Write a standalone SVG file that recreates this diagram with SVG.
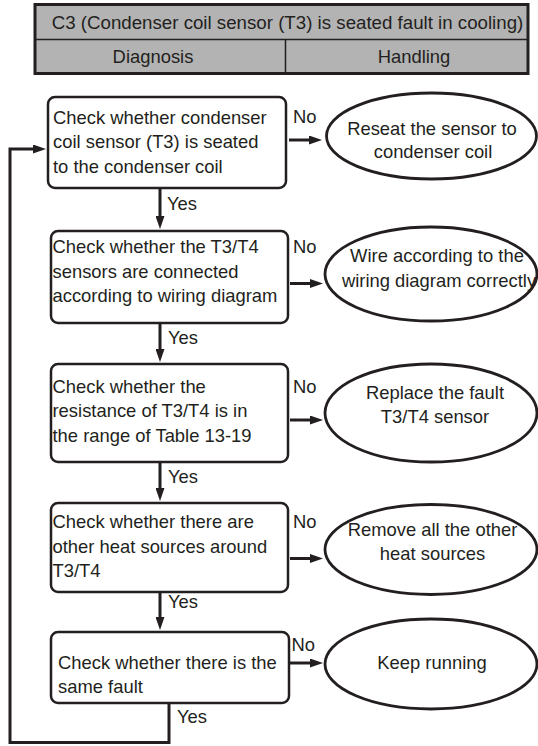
<svg xmlns="http://www.w3.org/2000/svg" width="538" height="746" viewBox="0 0 538 746">
<style>
text{font-family:"Liberation Sans",Arial,sans-serif;font-size:18.4px;fill:#231f20}
.mid{text-anchor:middle}
.ttl{font-size:18.7px}
.box{fill:#fff;stroke:#231f20;stroke-width:2.5}
.ell{fill:#fff;stroke:#231f20;stroke-width:2.8}
.hdr{fill:#b3b3b3;stroke:#231f20;stroke-width:3}
.hl{stroke:#231f20;stroke-width:1.5;fill:none}
.con{stroke:#231f20;stroke-width:3;fill:none}
</style>
<defs>
<marker id="ah" viewBox="0 0 13 9" refX="2" refY="4.5" markerWidth="13" markerHeight="9" markerUnits="userSpaceOnUse" orient="auto">
<path d="M0,0 L13,4.5 L0,9 z" fill="#231f20"/>
</marker>
</defs>

<g id="header">
<rect class="hdr" x="35" y="4.5" width="493" height="69"/>
<line class="hl" x1="35" y1="39.5" x2="528" y2="39.5"/>
<line class="hl" x1="285.5" y1="39.5" x2="285.5" y2="73.5"/>
<text class="mid ttl" x="287.5" y="28.5">C3 (Condenser coil sensor (T3) is seated fault in cooling)</text>
<text class="mid" x="153" y="63">Diagnosis</text>
<text class="mid" x="414" y="63">Handling</text>
</g>

<g id="connectors">
<path class="con" d="M289,140 H311" marker-end="url(#ah)"/>
<path class="con" d="M290,283.5 H312" marker-end="url(#ah)"/>
<path class="con" d="M290,420 H312" marker-end="url(#ah)"/>
<path class="con" d="M290,558.5 H312" marker-end="url(#ah)"/>
<path class="con" d="M290,663 H312" marker-end="url(#ah)"/>
<path class="con" d="M160,188 V218" marker-end="url(#ah)"/>
<path class="con" d="M160,323 V351" marker-end="url(#ah)"/>
<path class="con" d="M160,462 V490" marker-end="url(#ah)"/>
<path class="con" d="M160,592 V619" marker-end="url(#ah)"/>
<path class="con" d="M169,703 V742.5 H10 V149 H35" marker-end="url(#ah)"/>
<text x="293" y="122.5">No</text>
<text x="293" y="252.5">No</text>
<text x="293" y="392.5">No</text>
<text x="293" y="528">No</text>
<text x="291.5" y="650.5">No</text>
<text x="167" y="209.5">Yes</text>
<text x="168" y="343.5">Yes</text>
<text x="168" y="482.5">Yes</text>
<text x="168" y="608">Yes</text>
<text x="177" y="723">Yes</text>
</g>

<g id="n1">
<rect class="box" x="48" y="97" width="238" height="91" rx="7"/>
<text x="53" y="123.5">Check whether condenser</text>
<text x="53" y="148">coil sensor (T3) is seated</text>
<text x="53" y="172.5">to the condenser coil</text>
</g>
<g id="e1">
<ellipse class="ell" cx="431.5" cy="136" rx="105" ry="43"/>
<text class="mid" x="432" y="134.5">Reseat the sensor to</text>
<text class="mid" x="433" y="158">condenser coil</text>
</g>

<g id="n2">
<rect class="box" x="51" y="231" width="237" height="92" rx="7"/>
<text x="52.5" y="253">Check whether the T3/T4</text>
<text x="52.5" y="277.5">sensors are connected</text>
<text x="52.5" y="302">according to wiring diagram</text>
</g>
<g id="e2">
<ellipse class="ell" cx="431" cy="274" rx="106" ry="47"/>
<text class="mid" x="437" y="261.5">Wire according to the</text>
<text class="mid" x="439" y="286.5">wiring diagram correctly</text>
</g>

<g id="n3">
<rect class="box" x="51" y="364" width="237" height="98" rx="7"/>
<text x="52.5" y="392.5">Check whether the</text>
<text x="52.5" y="417">resistance of T3/T4 is in</text>
<text x="52.5" y="441.5">the range of Table 13-19</text>
</g>
<g id="e3">
<ellipse class="ell" cx="431" cy="413" rx="106" ry="49"/>
<text class="mid" x="435" y="398.5">Replace the fault</text>
<text class="mid" x="435" y="422.5">T3/T4 sensor</text>
</g>

<g id="n4">
<rect class="box" x="51" y="503" width="237" height="89" rx="7"/>
<text x="52.5" y="527.5">Check whether there are</text>
<text x="52.5" y="552.5">other heat sources around</text>
<text x="52.5" y="577">T3/T4</text>
</g>
<g id="e4">
<ellipse class="ell" cx="431" cy="549.5" rx="106" ry="45"/>
<text class="mid" x="432.5" y="536">Remove all the other</text>
<text class="mid" x="432.5" y="560">heat sources</text>
</g>

<g id="n5">
<rect class="box" x="51" y="632" width="238" height="71" rx="7"/>
<text x="58" y="669">Check whether there is the</text>
<text x="58" y="693">same fault</text>
</g>
<g id="e5">
<ellipse class="ell" cx="431" cy="664" rx="106" ry="45"/>
<text class="mid" x="432" y="669">Keep running</text>
</g>
</svg>
